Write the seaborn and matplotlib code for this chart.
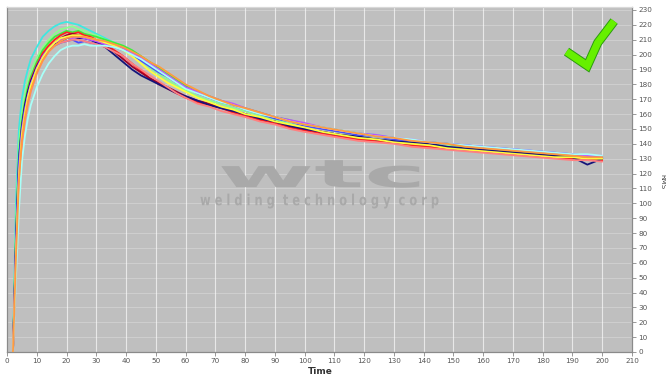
import numpy as np
import pandas as pd
import matplotlib
matplotlib.use("Agg")
import matplotlib.pyplot as plt
import seaborn as sns
from matplotlib.textpath import TextPath
from matplotlib.patches import PathPatch
from matplotlib.transforms import Affine2D
from matplotlib.font_manager import FontProperties
import matplotlib.patheffects as pe

# Sample times (s) shared by every weld trace
time = [2, 3, 4, 5, 6, 7, 8, 10, 12, 14, 16, 18, 20, 22, 24, 26, 28, 30,
        33, 36, 39, 42, 45, 48, 51, 54, 57, 60, 64, 68, 72, 76, 80, 85, 90,
        95, 100, 106, 112, 118, 124, 130, 136, 142, 148, 154, 160, 166, 172,
        178, 184, 190, 195, 200]

# RMS current per weld
weld_01 = [0, 100, 150, 170, 182, 190, 197, 205, 212, 216, 219, 221, 222, 221, 220, 218, 216, 214,
           211, 208, 205, 201, 197, 193, 189, 185, 181, 178, 174, 171, 168, 166, 163, 160, 157,
           155, 153, 151, 149, 147, 146, 144, 142, 141, 140, 139, 138, 137, 136, 135, 134, 133, 132, 131]
weld_02 = [0, 85, 140, 160, 173, 182, 189, 198, 205, 210, 214, 217, 218, 219, 217, 216, 214, 213,
           210, 208, 205, 201, 196, 191, 187, 183, 179, 176, 172, 169, 167, 164, 162, 159, 156,
           154, 152, 150, 148, 146, 145, 143, 142, 140, 139, 138, 137, 136, 135, 134, 133, 132, 132, 131]
weld_03 = [0, 78, 132, 155, 168, 178, 185, 195, 203, 208, 212, 214, 216, 215, 216, 214, 213, 212,
           210, 208, 206, 203, 199, 195, 191, 187, 183, 179, 175, 172, 169, 166, 164, 161, 158,
           156, 153, 151, 149, 147, 145, 144, 142, 141, 140, 138, 137, 136, 135, 134, 133, 132, 132, 131]
weld_04 = [0, 70, 125, 150, 165, 175, 183, 193, 201, 206, 210, 213, 215, 214, 215, 213, 212, 210,
           207, 203, 199, 194, 189, 184, 180, 177, 174, 171, 168, 166, 164, 161, 159, 156, 154,
           151, 149, 147, 145, 143, 142, 141, 139, 138, 137, 136, 135, 134, 133, 132, 131, 130, 130, 129]
weld_05 = [0, 60, 110, 145, 160, 170, 178, 190, 198, 204, 208, 211, 213, 214, 213, 212, 211, 209,
           206, 202, 197, 192, 188, 184, 181, 178, 175, 172, 169, 167, 164, 162, 160, 157, 155,
           152, 150, 148, 146, 144, 143, 141, 140, 139, 137, 136, 135, 134, 133, 132, 131, 131, 130, 130]
weld_06 = [0, 75, 130, 152, 166, 175, 182, 192, 199, 204, 207, 209, 211, 212, 211, 211, 210, 208,
           205, 200, 195, 190, 186, 183, 180, 177, 174, 172, 169, 166, 164, 162, 160, 157, 155,
           152, 150, 148, 146, 145, 143, 142, 141, 140, 138, 137, 136, 135, 134, 133, 132, 131, 126, 130]
weld_07 = [0, 72, 128, 150, 163, 172, 180, 190, 198, 203, 206, 208, 209, 210, 208, 209, 208, 207,
           206, 205, 203, 200, 196, 192, 188, 185, 181, 178, 174, 171, 168, 166, 163, 160, 157,
           155, 152, 150, 148, 146, 145, 143, 142, 141, 140, 139, 138, 137, 136, 135, 134, 133, 132, 131]
weld_08 = [0, 68, 120, 148, 162, 172, 180, 191, 199, 204, 208, 210, 212, 211, 212, 211, 210, 209,
           207, 206, 204, 201, 198, 194, 190, 186, 182, 178, 175, 172, 169, 167, 164, 161, 158,
           156, 154, 151, 149, 147, 146, 144, 143, 141, 140, 139, 138, 137, 136, 135, 134, 133, 132, 132]
weld_09 = [0, 65, 118, 146, 160, 171, 179, 190, 198, 204, 208, 211, 212, 213, 213, 212, 211, 210,
           208, 206, 203, 199, 194, 189, 185, 181, 178, 175, 171, 168, 165, 163, 160, 158, 155,
           153, 151, 148, 146, 144, 143, 141, 140, 139, 137, 136, 135, 134, 133, 132, 131, 131, 130, 130]
weld_10 = [0, 55, 105, 138, 155, 166, 175, 187, 196, 202, 206, 208, 209, 210, 210, 209, 208, 207,
           205, 202, 199, 194, 190, 186, 182, 178, 174, 171, 167, 165, 162, 160, 158, 155, 153,
           150, 148, 146, 144, 142, 141, 140, 138, 137, 136, 135, 134, 133, 132, 131, 130, 129, 129, 128]
weld_11 = [0, 50, 95, 128, 145, 157, 166, 178, 187, 194, 199, 203, 205, 206, 206, 207, 206, 206,
           206, 205, 203, 200, 197, 193, 189, 185, 181, 177, 174, 171, 168, 166, 163, 160, 158,
           155, 153, 151, 149, 147, 145, 144, 143, 141, 140, 139, 138, 137, 136, 135, 134, 133, 133, 132]
weld_12 = [0, 62, 115, 142, 157, 168, 176, 188, 196, 202, 206, 209, 211, 212, 212, 212, 211, 210,
           209, 207, 205, 202, 199, 195, 192, 188, 184, 180, 176, 172, 169, 166, 164, 161, 158,
           155, 153, 151, 149, 147, 145, 144, 142, 141, 140, 138, 137, 136, 135, 134, 133, 132, 131, 131]

welds = {
    "W01": weld_01, "W02": weld_02, "W03": weld_03, "W04": weld_04,
    "W05": weld_05, "W06": weld_06, "W07": weld_07, "W08": weld_08,
    "W09": weld_09, "W10": weld_10, "W11": weld_11, "W12": weld_12,
}
colors = {
    "W01": "#3ee8e0", "W02": "#8cff8c", "W03": "#3cf03c", "W04": "#ff2020",
    "W05": "#a0002a", "W06": "#14147a", "W07": "#4a4aff", "W08": "#c050ff",
    "W09": "#ffff3c", "W10": "#ff8080", "W11": "#a8fff8", "W12": "#ff9a40",
}

x_ticks = list(range(0, 211, 10))
y_ticks = list(range(0, 231, 10))

df = pd.concat(
    [pd.DataFrame({"Time": time, "RMS": v, "weld": k}) for k, v in welds.items()],
    ignore_index=True,
)

sns.set_style("white")
plt.rcParams["font.family"] = ["DejaVu Sans"]

fig = plt.figure(figsize=(6.66, 3.75), dpi=100)
ax = fig.add_axes([7 / 666, 1 - 352 / 375, 625 / 666, 345 / 375])
ax.set_facecolor("#bfbfbf")

sns.lineplot(data=df, x="Time", y="RMS", hue="weld", palette=colors,
             legend=False, linewidth=1.3, sort=False, ax=ax, zorder=3)

ax.set_xlim(0, 210)
ax.set_ylim(0, 232)
ax.set_xticks(x_ticks)
ax.set_yticks(y_ticks)

# grid: bright verticals, faint horizontals
for xv in x_ticks:
    ax.axvline(xv, color="white", lw=0.8, alpha=0.65, zorder=0.5)
for yv in y_ticks:
    ax.axhline(yv, color="white", lw=0.6, alpha=0.28, zorder=0.5)

ax.yaxis.tick_right()
ax.tick_params(axis="both", labelsize=5.2, labelcolor="#555555", color="#888888",
               length=3, width=0.6, pad=1.5)
ax.tick_params(axis="y", right=True, left=False)
ax.tick_params(axis="x", bottom=True)
for s in ax.spines.values():
    s.set_color("#8a8a8a")
    s.set_linewidth(0.9)
ax.spines["top"].set_color("#d8d8d8")

ax.set_xlabel("")
ax.set_ylabel("")
fig.text(320 / 666, 1 - 371 / 375, "Time", ha="center", va="center",
         fontsize=6.5, fontweight="bold", color="#333333")
fig.text(662 / 666, 1 - 182 / 375, "RMS", ha="center", va="center",
         fontsize=5, rotation=270, color="#444444")


def stretched_text(text, x0, x1, y0, y1, color, weight):
    """Draw text as a path fitted into the data box [x0,x1]x[y0,y1]."""
    tp = TextPath((0, 0), text, size=10,
                  prop=FontProperties(family="DejaVu Sans", weight=weight))
    bb = tp.get_extents()
    tr = (Affine2D().translate(-bb.x0, -bb.y0)
          .scale((x1 - x0) / bb.width, (y1 - y0) / bb.height)
          .translate(x0, y0) + ax.transData)
    ax.add_patch(PathPatch(tp, transform=tr, facecolor=color,
                           edgecolor="none", zorder=1))


# company watermark
stretched_text("wtc", 72, 138.5, 110.5, 129, "#a9a9a9", "bold")
stretched_text("w e l d i n g  t e c h n o l o g y  c o r p",
               65, 145, 96.5, 106.5, "#a9a9a9", "bold")

# pass mark
ax.plot([188, 195, 198.5, 204], [202, 192.5, 208, 222.5],
        color="#66f000", lw=5.2, solid_capstyle="butt", solid_joinstyle="miter",
        zorder=5,
        path_effects=[pe.Stroke(linewidth=6.6, foreground="#2c9a10"), pe.Normal()])

fig.savefig("out.png", dpi=100, facecolor="white")
